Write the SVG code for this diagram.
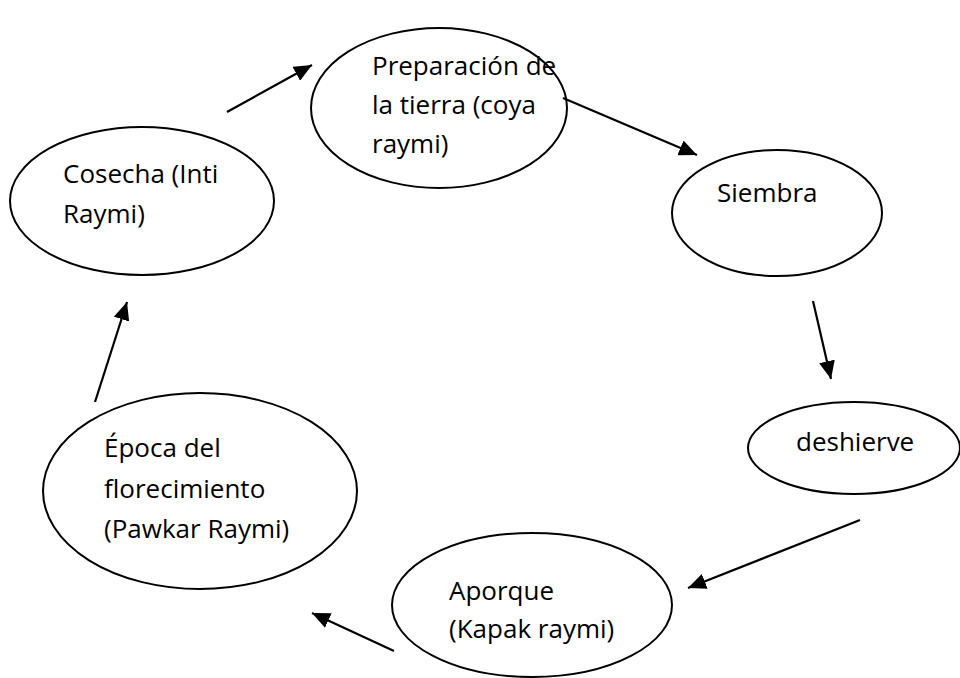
<svg xmlns="http://www.w3.org/2000/svg" width="960" height="678" viewBox="0 0 960 678">
<style>
.node ellipse{fill:#fff;stroke:#000;stroke-width:2}
.node text{font-family:"Open Sans","Noto Sans",sans-serif;font-size:26px;fill:#000}
.conn line{stroke:#000;stroke-width:2.2;fill:none}
</style>
<defs>
<marker id="ah" markerUnits="userSpaceOnUse" markerWidth="20" markerHeight="16" refX="18" refY="8" orient="auto">
<path d="M0,0 L18,8 L0,16 Z" fill="#000"/>
</marker>
<clipPath id="clipPrep"><rect x="300" y="30" width="280" height="129"/></clipPath>
</defs>
<rect width="960" height="678" fill="#fff"/>
<g id="n-preparacion" class="node">
<ellipse cx="439" cy="108" rx="128" ry="80"/>
<g clip-path="url(#clipPrep)">
<text x="372" y="75">Preparación de</text>
<text x="372" y="114">la tierra (coya</text>
<text x="372" y="153">raymi)</text>
</g>
</g>
<g id="n-siembra" class="node">
<ellipse cx="777" cy="213" rx="105" ry="63"/>
<text x="717" y="202">Siembra</text>
</g>
<g id="n-deshierve" class="node">
<ellipse cx="854" cy="448" rx="106" ry="46"/>
<text x="796" y="451">deshierve</text>
</g>
<g id="n-aporque" class="node">
<ellipse cx="532" cy="605" rx="140" ry="72"/>
<text x="449" y="600">Aporque</text>
<text x="449" y="638">(Kapak raymi)</text>
</g>
<g id="n-epoca" class="node">
<ellipse cx="200" cy="491" rx="157" ry="98"/>
<text x="104" y="457">Época del</text>
<text x="104" y="498">florecimiento</text>
<text x="104" y="538">(Pawkar Raymi)</text>
</g>
<g id="n-cosecha" class="node">
<ellipse cx="142" cy="201" rx="132" ry="74"/>
<text x="63" y="183">Cosecha (Inti</text>
<text x="63" y="223">Raymi)</text>
</g>
<g id="connectors" class="conn">
<line x1="227" y1="112" x2="312" y2="65" marker-end="url(#ah)"/>
<line x1="563" y1="98" x2="697" y2="155" marker-end="url(#ah)"/>
<line x1="813" y1="301" x2="831" y2="379" marker-end="url(#ah)"/>
<line x1="860" y1="520" x2="688" y2="588" marker-end="url(#ah)"/>
<line x1="394" y1="651" x2="312" y2="613" marker-end="url(#ah)"/>
<line x1="95" y1="402" x2="127" y2="302" marker-end="url(#ah)"/>
</g>
</svg>
